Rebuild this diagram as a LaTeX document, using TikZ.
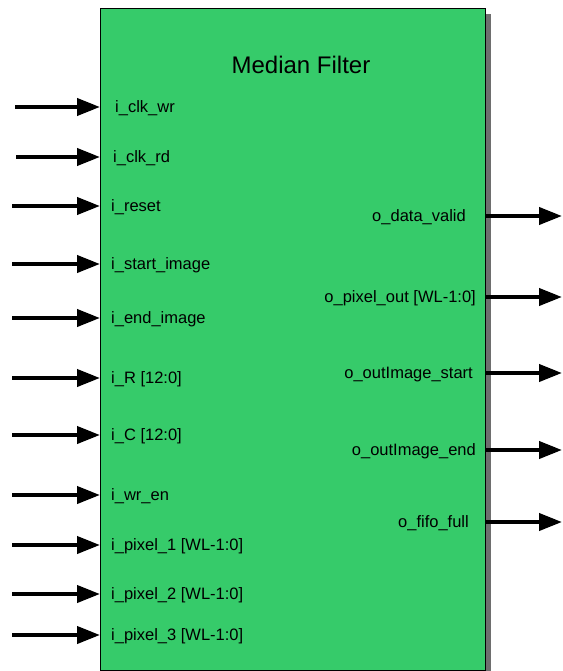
\documentclass[tikz,border=0pt]{standalone}
\usepackage{fontspec}
\setmainfont{Liberation Sans}
\usetikzlibrary{arrows.meta}
\definecolor{boxgreen}{RGB}{54,203,106}
\definecolor{shadowgray}{RGB}{110,110,110}
\begin{document}
\begin{tikzpicture}[x=1pt,y=-1pt,
  sig/.style={line width=4pt,-{Triangle[length=23pt,width=17pt]}},
  inlab/.style={anchor=west,inner sep=0pt,font=\fontsize{16.5}{19}\selectfont},
  outlab/.style={anchor=east,inner sep=0pt,font=\fontsize{16.5}{19}\selectfont}]
\useasboundingbox (0,0) rectangle (562,671);
\fill[shadowgray] (106,14) rectangle (490.5,680);
\node[draw=black,line width=0.8pt,fill=boxgreen,minimum width=385pt,minimum height=662pt,inner sep=0pt,anchor=north west] (mf) at (100,8) {};
\node[inner sep=0pt,font=\fontsize{24}{27}\selectfont] (title) at (301,65) {Median Filter};
% inputs
\foreach \nm/\y/\x/\tx/\txt in {
  clkwr/107/15/115/{i\_clk\_wr},
  clkrd/157/16/113/{i\_clk\_rd},
  reset/206/12/111/{i\_reset},
  start/264/12/111/{i\_start\_image},
  endim/318/12/111/{i\_end\_image},
  r/378/12/111/{i\_R [12:0]},
  c/435/12/111/{i\_C [12:0]},
  wren/495/12/111/{i\_wr\_en},
  p1/545/12/111/{i\_pixel\_1 [WL-1:0]},
  p2/594/12/111/{i\_pixel\_2 [WL-1:0]},
  p3/635/12/111/{i\_pixel\_3 [WL-1:0]}}{
  \coordinate (t\nm) at (\x,\y);
  \node[inlab] (l\nm) at (\tx,\y+1.5) {\txt};
  \draw[sig] (t\nm) -- (t\nm -| mf.west);
}
% outputs
\foreach \nm/\y/\tx/\txt in {
  valid/216/466/{o\_data\_valid},
  pix/297/476/{o\_pixel\_out [WL-1:0]},
  ostart/373/473/{o\_outImage\_start},
  oend/450/476/{o\_outImage\_end},
  full/522/469/{o\_fifo\_full}}{
  \coordinate (h\nm) at (562,\y);
  \node[outlab] (l\nm) at (\tx,\y+1.5) {\txt};
  \draw[sig] (h\nm -| mf.east) -- (h\nm);
}
\end{tikzpicture}
\end{document}
